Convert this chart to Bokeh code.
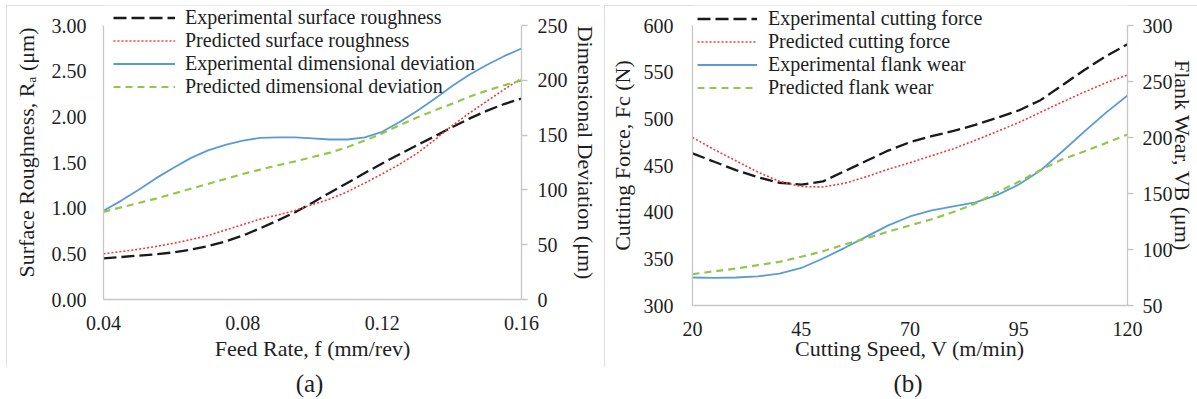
from bokeh.plotting import figure
from bokeh.models import (LinearAxis, Range1d, Legend, LegendItem, FixedTicker,
                          PrintfTickFormatter)
from bokeh.layouts import row, column
from bokeh.embed import file_html
from bokeh.resources import INLINE

# ---------------- data ----------------
feed_rate = [0.040, 0.045, 0.050, 0.055, 0.060, 0.065, 0.070, 0.075, 0.080, 0.085,
             0.090, 0.095, 0.100, 0.105, 0.110, 0.115, 0.120, 0.125, 0.130, 0.135,
             0.140, 0.145, 0.150, 0.155, 0.160]
ra_experimental = [0.45, 0.465, 0.48, 0.495, 0.515, 0.545, 0.585, 0.635, 0.70, 0.78,
                   0.865, 0.955, 1.06, 1.17, 1.275, 1.385, 1.49, 1.59, 1.69, 1.785,
                   1.885, 1.98, 2.065, 2.14, 2.20]
ra_predicted = [0.50, 0.525, 0.55, 0.58, 0.615, 0.655, 0.70, 0.76, 0.82, 0.88,
                0.925, 0.975, 1.04, 1.10, 1.18, 1.275, 1.375, 1.48, 1.60, 1.745,
                1.90, 2.04, 2.17, 2.30, 2.42]
dev_experimental = [81, 90, 100, 110.5, 120, 129, 136, 141, 145, 147.5,
                    148, 148, 147, 146, 146, 148, 153, 162, 172, 183,
                    194.5, 205, 214, 222, 229]
dev_predicted = [80, 84, 88, 92, 96.5, 101, 105.5, 110, 114.5, 118.5,
                 122.5, 126, 130, 134, 139, 145, 151.5, 159, 166, 172.5,
                 178.5, 185, 190.5, 195.5, 200]

cutting_speed = [20, 25, 30, 35, 40, 45, 50, 55, 60, 65, 70,
                 75, 80, 85, 90, 95, 100, 105, 110, 115, 120]
fc_experimental = [463, 454, 445, 437.5, 431.5, 429.5, 433, 444, 455, 466, 475,
                   481.5, 487, 493.5, 501, 509, 520, 536, 552, 567, 580]
fc_predicted = [480, 467, 455, 443, 433, 427.5, 427, 431, 438, 446, 453,
                460.5, 468, 477, 486.5, 496, 507, 518, 528.5, 538.5, 547]
vb_experimental = [75, 74.7, 75, 76, 78.5, 83.5, 92, 101.5, 111.5, 121.5, 129.5,
                   135, 138.5, 142, 148.5, 158, 170.5, 187.5, 205, 222, 237.5]
vb_predicted = [78, 80.5, 83, 86, 89, 93.5, 98.5, 104.5, 110, 116, 121.5,
                127, 133.5, 141, 151, 160.5, 171, 180.5, 187.5, 195, 202.7]

feed_ticks = [0.04, 0.08, 0.12, 0.16]
ra_ticks = [0.0, 0.5, 1.0, 1.5, 2.0, 2.5, 3.0]
dev_ticks = [0, 50, 100, 150, 200, 250]
speed_ticks = [20, 45, 70, 95, 120]
fc_ticks = [300, 350, 400, 450, 500, 550, 600]
vb_ticks = [50, 100, 150, 200, 250, 300]

labels_a = ["Experimental surface roughness", "Predicted surface roughness",
            "Experimental dimensional deviation", "Predicted dimensional deviation"]
labels_b = ["Experimental cutting force", "Predicted cutting force",
            "Experimental flank wear", "Predicted flank wear"]

title_a_left = "Surface Roughness, Rₐ (μm)"
title_a_right = "Dimensional Deviation (μm)"
title_a_bottom = "Feed Rate, f (mm/rev)"
title_b_left = "Cutting Force, Fc (N)"
title_b_right = "Flank Wear, VB (μm)"
title_b_bottom = "Cutting Speed, V (m/min)"

# ---------------- styling ----------------
FONT = "Liberation Serif"
TXT = "#1e1e1e"
AX = "#c6c6c6"
BOX_CSS = {"outline": "1px solid #d4d4d4", "outline-offset": "-1px"}
TICK_PX = "20px"
LEG_PX = "20px"
TITLE_PX = "22px"

BLACK = dict(line_color="#1a1a1a", line_width=2.3, line_dash="13 5")
RED = dict(line_color="#f03a3a", line_width=1.6, line_dash="2 2")
BLUE = dict(line_color="#5b9bd5", line_width=1.8)
GREEN = dict(line_color="#92c84a", line_width=2.2, line_dash="7 5")


def style_axis(ax, ticks, fmt, standoff, title, title_standoff, ticks_out=0):
    ax.ticker = FixedTicker(ticks=ticks)
    if fmt:
        ax.formatter = PrintfTickFormatter(format=fmt)
    ax.axis_line_color = AX
    ax.axis_line_width = 1.3
    ax.major_tick_line_color = AX if ticks_out else None
    ax.major_tick_line_width = 1.3
    ax.major_tick_out = ticks_out
    ax.major_tick_in = 0
    ax.minor_tick_line_color = None
    ax.major_label_text_font = FONT
    ax.major_label_text_font_size = TICK_PX
    ax.major_label_text_color = TXT
    ax.major_label_standoff = standoff
    ax.axis_label = title
    ax.axis_label_text_font = FONT
    ax.axis_label_text_font_size = TITLE_PX
    ax.axis_label_text_font_style = "normal"
    ax.axis_label_text_color = TXT
    ax.axis_label_standoff = title_standoff


def make_panel(width, height, margin, left, right, top, bottom, xr, yl, yr,
               yl_bounds, yr_bounds):
    p = figure(width=width, height=height, x_range=Range1d(*xr), y_range=Range1d(*yl),
               output_backend="svg", toolbar_location=None,
               min_border_left=left, min_border_right=right,
               min_border_top=top, min_border_bottom=bottom)
    p.margin = margin
    p.styles = BOX_CSS
    p.extra_y_ranges = {"r": Range1d(*yr)}
    p.add_layout(LinearAxis(y_range_name="r"), "right")
    p.xgrid.visible = False
    p.ygrid.visible = False
    p.outline_line_color = None
    p.background_fill_color = "white"
    p.border_fill_color = "white"
    p.yaxis[0].bounds = yl_bounds
    p.yaxis[1].bounds = yr_bounds
    return p


def add_legend(p, renderers, labels, x, y, glyph_w, standoff):
    items = [LegendItem(label=l, renderers=[r]) for l, r in zip(labels, renderers)]
    leg = Legend(items=items, location=(x, y), padding=0, margin=0, spacing=0,
                 label_height=21, glyph_height=21, glyph_width=glyph_w,
                 label_standoff=standoff, background_fill_alpha=0,
                 border_line_alpha=0, label_text_font=FONT,
                 label_text_line_height=1.0,
                 label_text_font_size=LEG_PX, label_text_color=TXT)
    p.add_layout(leg)


def caption(text, width):
    c = figure(width=width, height=32, x_range=Range1d(0, 1), y_range=Range1d(0, 1),
               output_backend="svg", toolbar_location=None, min_border=0,
               x_axis_location=None, y_axis_location=None, title=text)
    c.outline_line_color = None
    c.xgrid.visible = False
    c.ygrid.visible = False
    c.title.align = "center"
    c.title.text_font = FONT
    c.title.text_font_size = "25px"
    c.title.text_font_style = "normal"
    c.title.text_color = TXT
    c.title.standoff = 0
    return c


# ---------------- panel (a) ----------------
pa = make_panel(594, 362, (5, 0, 0, 6), 97, 79, 0, 68, (0.04, 0.16), (0, 3.219),
                (0, 268.25), (0, 3), (0, 250))
style_axis(pa.xaxis[0], feed_ticks, "%.2f", 16, title_a_bottom, 3)
style_axis(pa.yaxis[0], ra_ticks, "%.2f", 17, title_a_left, 10)
style_axis(pa.yaxis[1], dev_ticks, None, 10, title_a_right, 2, ticks_out=6)

ra1 = pa.line(feed_rate, ra_experimental, **BLACK)
ra2 = pa.line(feed_rate, ra_predicted, **RED)
dv1 = pa.line(feed_rate, dev_experimental, y_range_name="r", **BLUE)
dv2 = pa.line(feed_rate, dev_predicted, y_range_name="r", **GREEN)
add_legend(pa, [ra1, ra2, dv1, dv2], labels_a, 10, 201, 62, 10)

# ---------------- panel (b) ----------------
pb = make_panel(593, 362, (5, 0, 0, 4), 88, 69, 0, 62, (20, 120), (300, 621.43),
                (50, 317.86), (300, 600), (50, 300))
style_axis(pb.xaxis[0], speed_ticks, None, 16, title_b_bottom, -3)
style_axis(pb.yaxis[0], fc_ticks, None, 19, title_b_left, 6)
style_axis(pb.yaxis[1], vb_ticks, None, 9, title_b_right, -6, ticks_out=6)

fc1 = pb.line(cutting_speed, fc_experimental, **BLACK)
fc2 = pb.line(cutting_speed, fc_predicted, **RED)
vb1 = pb.line(cutting_speed, vb_experimental, y_range_name="r", **BLUE)
vb2 = pb.line(cutting_speed, vb_predicted, y_range_name="r", **GREEN)
add_legend(pb, [fc1, fc2, vb1, vb2], labels_b, 5, 206, 60, 11)

cap_a = caption("(a)", 600)
cap_b = caption("(b)", 597)

layout = row(column(pa, cap_a, spacing=0), column(pb, cap_b, spacing=0), spacing=0)
open("out.html", "w").write(file_html(layout, INLINE))
